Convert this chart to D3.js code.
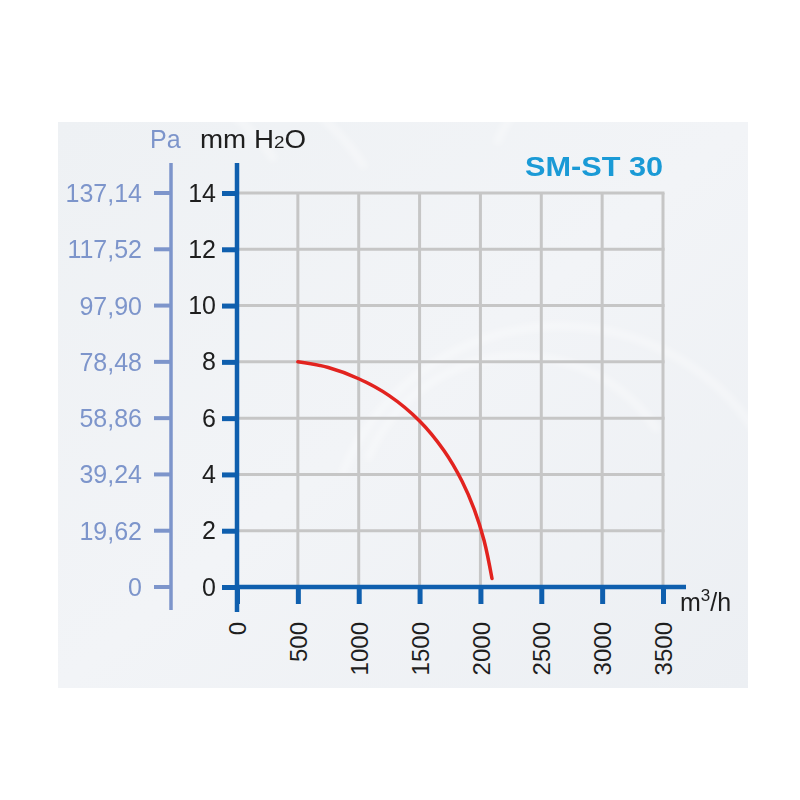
<!DOCTYPE html>
<html>
<head>
<meta charset="utf-8">
<script src="https://cdn.jsdelivr.net/npm/d3@7/dist/d3.min.js"></script>
<style>
  html, body { margin: 0; padding: 0; background: #ffffff; }
  svg { display: block; font-family: "Liberation Sans", Arial, sans-serif; }
</style>
</head>
<body>
<svg id="chart" width="800" height="800"></svg>
<script>
// ---- data ----
const title = "SM-ST 30";
const flowTicks = [0, 500, 1000, 1500, 2000, 2500, 3000, 3500];      // m3/h
const mmTicks = [0, 2, 4, 6, 8, 10, 12, 14];                          // mm H2O
const paLabels = ["0", "19,62", "39,24", "58,86", "78,48", "97,90", "117,52", "137,14"]; // Pa
const curveFlow = [500, 750, 1000, 1250, 1500, 1700, 1850, 1950, 2030, 2095];
const curvePressure = [8.0, 7.8, 7.4, 6.8, 5.9, 4.85, 3.75, 2.75, 1.65, 0.3];

// ---- layout ----
const svg = d3.select("#chart");
const x = d3.scaleLinear().domain([0, 3500]).range([237, 663]);
const y = d3.scaleLinear().domain([0, 14]).range([587, 193]);
const paX = 171;
const blue = "#0f5fae";
const paColor = "#7d95cb";
const textDark = "#1e1e1e";

// background panel
const defs = svg.append("defs");
const g1 = defs.append("linearGradient").attr("id", "bg").attr("x1", 0).attr("y1", 0).attr("x2", 1).attr("y2", 1);
g1.append("stop").attr("offset", "0%").attr("stop-color", "#eef1f4");
g1.append("stop").attr("offset", "50%").attr("stop-color", "#f2f4f7");
g1.append("stop").attr("offset", "100%").attr("stop-color", "#eceff3");
svg.append("rect").attr("x", 58).attr("y", 122).attr("width", 690).attr("height", 566).attr("fill", "url(#bg)");
defs.append("filter").attr("id", "blur").append("feGaussianBlur").attr("stdDeviation", 3);
// faint swirl texture
const swirl = svg.append("g").attr("filter", "url(#blur)");
[[120, 260, 180], [160, 300, 240], [520, 520, 160], [560, 560, 230], [640, 200, 150]].forEach(([cx, cy, r]) => {
  swirl.append("path")
    .attr("d", d3.arc()({innerRadius: r, outerRadius: r + 8, startAngle: -1.2, endAngle: 1.0}))
    .attr("transform", `translate(${cx},${cy})`)
    .attr("fill", "#ffffff").attr("fill-opacity", 0.35);
});

// grid
const grid = svg.append("g").attr("stroke", "#c6c6c6").attr("stroke-width", 3);
flowTicks.filter(d => d > 0).forEach(d => {
  grid.append("line").attr("x1", x(d)).attr("x2", x(d)).attr("y1", y(14)).attr("y2", y(0));
});
mmTicks.filter(d => d > 0).forEach(d => {
  grid.append("line").attr("x1", x(0)).attr("x2", x(3500) + 1.5).attr("y1", y(d)).attr("y2", y(d));
});

// curve
const line = d3.line().x((d, i) => x(curveFlow[i])).y(d => y(d)).curve(d3.curveCatmullRom.alpha(0.5));
svg.append("path")
  .attr("d", line(curvePressure))
  .attr("fill", "none")
  .attr("stroke", "#e2231f")
  .attr("stroke-width", 3.5)
  .attr("stroke-linecap", "round");

// Pa axis
const pa = svg.append("g");
pa.append("line").attr("x1", paX).attr("x2", paX).attr("y1", 163).attr("y2", 610)
  .attr("stroke", paColor).attr("stroke-width", 3.5);
mmTicks.forEach((d, i) => {
  pa.append("line").attr("x1", paX - 17).attr("x2", paX).attr("y1", y(d)).attr("y2", y(d))
    .attr("stroke", paColor).attr("stroke-width", 4);
  pa.append("text").attr("x", 142).attr("y", y(d)).attr("dy", "0.36em")
    .attr("text-anchor", "end").attr("font-size", 25).attr("fill", paColor).text(paLabels[i]);
});
svg.append("text").attr("x", 150).attr("y", 148).attr("font-size", 25).attr("fill", paColor).text("Pa");

// mm H2O axis (left, main)
const yAxis = d3.axisLeft(y).tickValues(mmTicks).tickSize(15).tickSizeOuter(0).tickPadding(6);
const ya = svg.append("g").attr("transform", `translate(${x(0)},0)`).call(yAxis);
ya.select(".domain").remove();
ya.selectAll(".tick line").attr("stroke", blue).attr("stroke-width", 5);
ya.selectAll(".tick text").attr("font-size", 25).attr("fill", textDark)
  .attr("font-family", "Liberation Sans, Arial, sans-serif");
svg.append("line").attr("x1", x(0)).attr("x2", x(0)).attr("y1", 163).attr("y2", 612)
  .attr("stroke", blue).attr("stroke-width", 4.5);
const mmLabel = svg.append("text").attr("x", 200).attr("y", 148).attr("font-size", 25).attr("fill", textDark)
  .attr("textLength", 106).attr("lengthAdjust", "spacingAndGlyphs");
mmLabel.append("tspan").text("mm H");
mmLabel.append("tspan").attr("font-size", 17).text("2");
mmLabel.append("tspan").text("O");

// flow axis (bottom)
const xAxis = d3.axisBottom(x).tickValues(flowTicks).tickSize(17).tickSizeOuter(0).tickFormat(d3.format("d"));
const xa = svg.append("g").attr("transform", `translate(0,${y(0)})`).call(xAxis);
xa.select(".domain").remove();
xa.selectAll(".tick line").attr("stroke", blue).attr("stroke-width", 5);
xa.selectAll(".tick text")
  .attr("font-size", 24).attr("fill", textDark)
  .attr("font-family", "Liberation Sans, Arial, sans-serif")
  .attr("text-anchor", "end")
  .attr("transform", "rotate(-90)")
  .attr("x", -35).attr("y", 0).attr("dy", "0.36em");
svg.append("line").attr("x1", x(0) - 2).attr("x2", 686).attr("y1", y(0)).attr("y2", y(0))
  .attr("stroke", blue).attr("stroke-width", 4.5);
const unit = svg.append("text").attr("x", 680).attr("y", 611).attr("font-size", 25).attr("fill", textDark);
unit.append("tspan").text("m");
unit.append("tspan").attr("font-size", 17).attr("dy", -10).text("3");
unit.append("tspan").attr("dy", 10).text("/h");

// title
svg.append("text").attr("x", 525).attr("y", 176).attr("font-size", 27).attr("font-weight", "bold")
  .attr("fill", "#1a9ad6").attr("textLength", 138).attr("lengthAdjust", "spacingAndGlyphs").text(title);
</script>
</body>
</html>
